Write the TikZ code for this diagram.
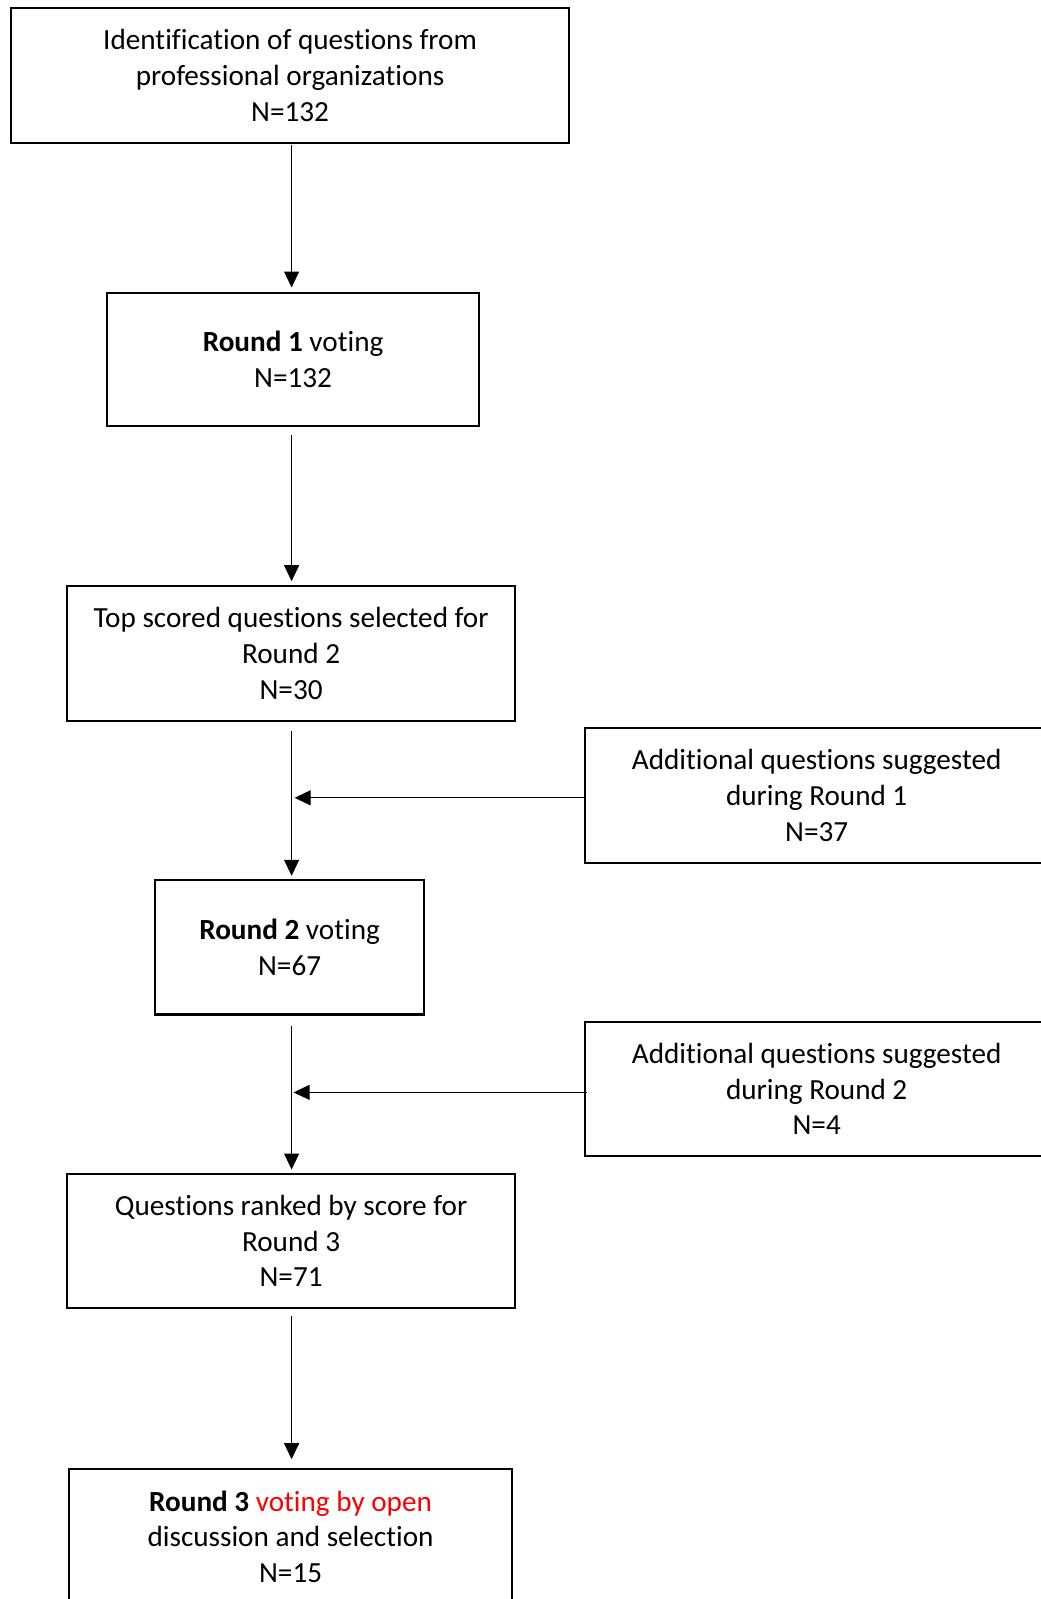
\documentclass[tikz,border=0pt]{standalone}
\usepackage{fontspec}
\setmainfont{Carlito}[Ligatures=CommonOff]
\usetikzlibrary{arrows.meta}
\begin{document}
\begin{tikzpicture}[x=1pt,y=-1pt,
  box/.style={draw,line width=2.2pt,rectangle,align=center,inner sep=0pt,
    minimum height=134.6pt,font=\fontsize{29.2pt}{35.7pt}\selectfont},
  arr/.style={line width=1.1pt,-{Triangle[length=16pt,width=15pt]}}]
\useasboundingbox (0,0) rectangle (1041,1599);
\clip (0,0) rectangle (1041,1599);
\coordinate (ax) at (291.6,0);
\node[box,minimum width=557.7pt] (b1) at (290.1,75.5)
  {Identification of questions from\\professional organizations\\N=132};
\node[box,minimum width=372.2pt,minimum height=133.6pt] (b2) at (293.1,359.4)
  {\textbf{Round 1} voting\\N=132};
\node[box,minimum width=447.6pt] (b3) at (291.1,653.6)
  {Top scored questions selected for\\Round 2\\N=30};
\node[box,minimum width=470pt] (bA) at (820.2,795.3)
  {\hspace*{-7pt}Additional questions suggested\\\hspace*{-7pt}during Round 1\\\hspace*{-7pt}N=37};
\node[box,minimum width=269.2pt] (b4) at (289.6,947.2)
  {\textbf{Round 2} voting\\N=67};
\node[box,minimum width=470pt] (bB) at (820.2,1088.9)
  {\hspace*{-7pt}Additional questions suggested\\\hspace*{-7pt}during Round 2\\\hspace*{-7pt}N=4};
\node[box,minimum width=447.6pt] (b5) at (291.1,1240.9)
  {Questions ranked by score for\\Round 3\\N=71};
\node[box,minimum width=442.5pt] (b6) at (290.6,1536.6)
  {\textbf{Round 3} \textcolor{red}{voting by open}\\discussion and selection\\N=15};
\draw[arr,shorten <=1pt,shorten >=4pt] (b1.south -| ax) -- (b2.north -| ax);
\draw[arr,shorten <=8pt,shorten >=4pt] (b2.south -| ax) -- (b3.north -| ax);
\draw[arr,shorten <=9pt,shorten >=3pt] (b3.south -| ax) -- (b4.north -| ax);
\draw[arr,shorten <=10pt,shorten >=3pt] (b4.south -| ax) -- (b5.north -| ax);
\draw[arr,shorten <=7pt,shorten >=9pt] (b5.south -| ax) -- (b6.north -| ax);
\draw[arr,shorten >=3pt] ([yshift=-2.5pt]bA.west) -- ([yshift=-2.5pt]bA.west -| ax);
\draw[arr,shorten <=-3pt,shorten >=2pt] ([yshift=-3.5pt]bB.west) -- ([yshift=-3.5pt]bB.west -| ax);
\end{tikzpicture}
\end{document}
